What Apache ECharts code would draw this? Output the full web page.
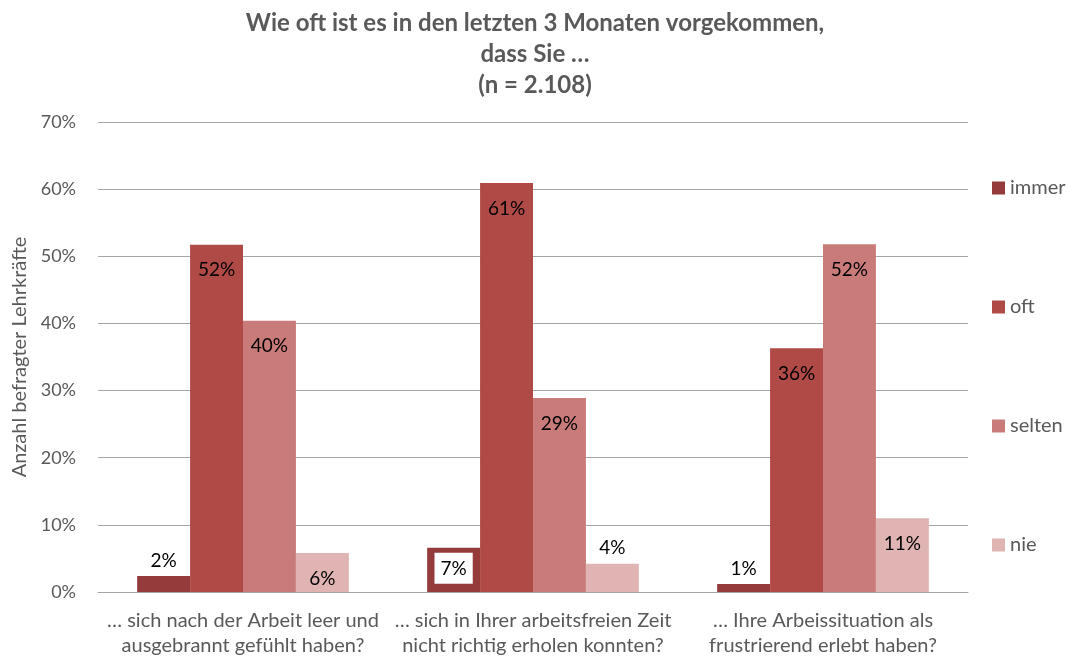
<!DOCTYPE html>
<html>
<head>
<meta charset="UTF-8">
<script type="text/javascript" src="https://cdn.jsdelivr.net/npm/echarts@6/dist/echarts.min.js"></script>
<title>Wie oft ist es vorgekommen</title>
<style>
	html, body { margin: 0; padding: 0; background: #fff; }
	#main { width: 1070px; height: 659px; }
</style>
</head>
<body>
<div id="main"></div>
<script type="text/javascript">
	// Kategorien und Werte (in Prozent)
	var categories = [
		"… sich nach der Arbeit leer und\nausgebrannt gefühlt haben?",
		"… sich in Ihrer arbeitsfreien Zeit\nnicht richtig erholen konnten?",
		"… Ihre Arbeissituation als\nfrustrierend erlebt haben?"
	];
	var seriesNames = ["immer", "oft", "selten", "nie"];
	var immer = [2.4, 6.6, 1.2];
	var oft = [51.7, 60.9, 36.3];
	var selten = [40.4, 28.9, 51.8];
	var nie = [5.8, 4.2, 11.0];
	var yTicks = [0, 10, 20, 30, 40, 50, 60, 70];

	var colors = ["#953B3B", "#B04A47", "#C87B79", "#DFB4B3"];
	var fontFamily = "Lato, 'Open Sans', sans-serif";

	function makeSeries(name, values, idx){
		return {
			name: name,
			type: "bar",
			barGap: "0%",
			barCategoryGap: "27%",
			itemStyle: { color: colors[idx] },
			data: values.map(function(v){
				var inside = v >= 5;
				var lbl = {
					show: true,
					position: inside ? "insideTop" : "top",
					distance: inside ? 16 : 6,
					color: "#000",
					fontSize: 19,
					fontFamily: fontFamily,
					formatter: Math.round(v) + "%"
				};
				if (inside && idx === 0) {
					lbl.backgroundColor = "#fff";
					lbl.padding = [7, 6, 5, 6];
					lbl.distance = 5;
				}
				return { value: v, label: lbl };
			})
		};
	}

	var myChart = echarts.init(document.getElementById("main"));
	var option = {
		animation: false,
		textStyle: { fontFamily: fontFamily },
		title: {
			text: "Wie oft ist es in den letzten 3 Monaten vorgekommen,\ndass Sie …\n(n = 2.108)",
			left: 530,
			textAlign: "center",
			top: 3,
			textStyle: {
				fontSize: 24,
				fontWeight: "bold",
				color: "#595959",
				lineHeight: 31,
				fontFamily: fontFamily
			}
		},
		legend: {
			orient: "vertical",
			left: 987,
			top: 173,
			itemWidth: 13,
			itemHeight: 13,
			itemGap: 99,
			icon: "rect",
			textStyle: { fontSize: 20, color: "#595959", fontFamily: fontFamily },
			data: seriesNames
		},
		grid: { left: 98, right: 102, top: 122, bottom: 67 },
		xAxis: {
			type: "category",
			data: categories,
			axisLine: { lineStyle: { color: "#a6a6a6" } },
			axisTick: { show: false },
			axisLabel: {
				color: "#595959",
				fontSize: 20,
				lineHeight: 25,
				margin: 16,
				interval: 0,
				fontFamily: fontFamily
			}
		},
		yAxis: {
			type: "value",
			min: yTicks[0],
			max: yTicks[yTicks.length - 1],
			interval: 10,
			name: "Anzahl befragter Lehrkräfte",
			nameLocation: "middle",
			nameGap: 68,
			nameRotate: 90,
			nameTextStyle: { color: "#595959", fontSize: 20, fontFamily: fontFamily },
			axisLine: { show: false },
			axisTick: { show: false },
			axisLabel: {
				formatter: "{value}%",
				color: "#595959",
				fontSize: 18,
				margin: 22,
				fontFamily: fontFamily
			},
			splitLine: { lineStyle: { color: "#a6a6a6", width: 1 } }
		},
		series: [
			makeSeries("immer", immer, 0),
			makeSeries("oft", oft, 1),
			makeSeries("selten", selten, 2),
			makeSeries("nie", nie, 3)
		]
	};
	myChart.setOption(option);
</script>
</body>
</html>
